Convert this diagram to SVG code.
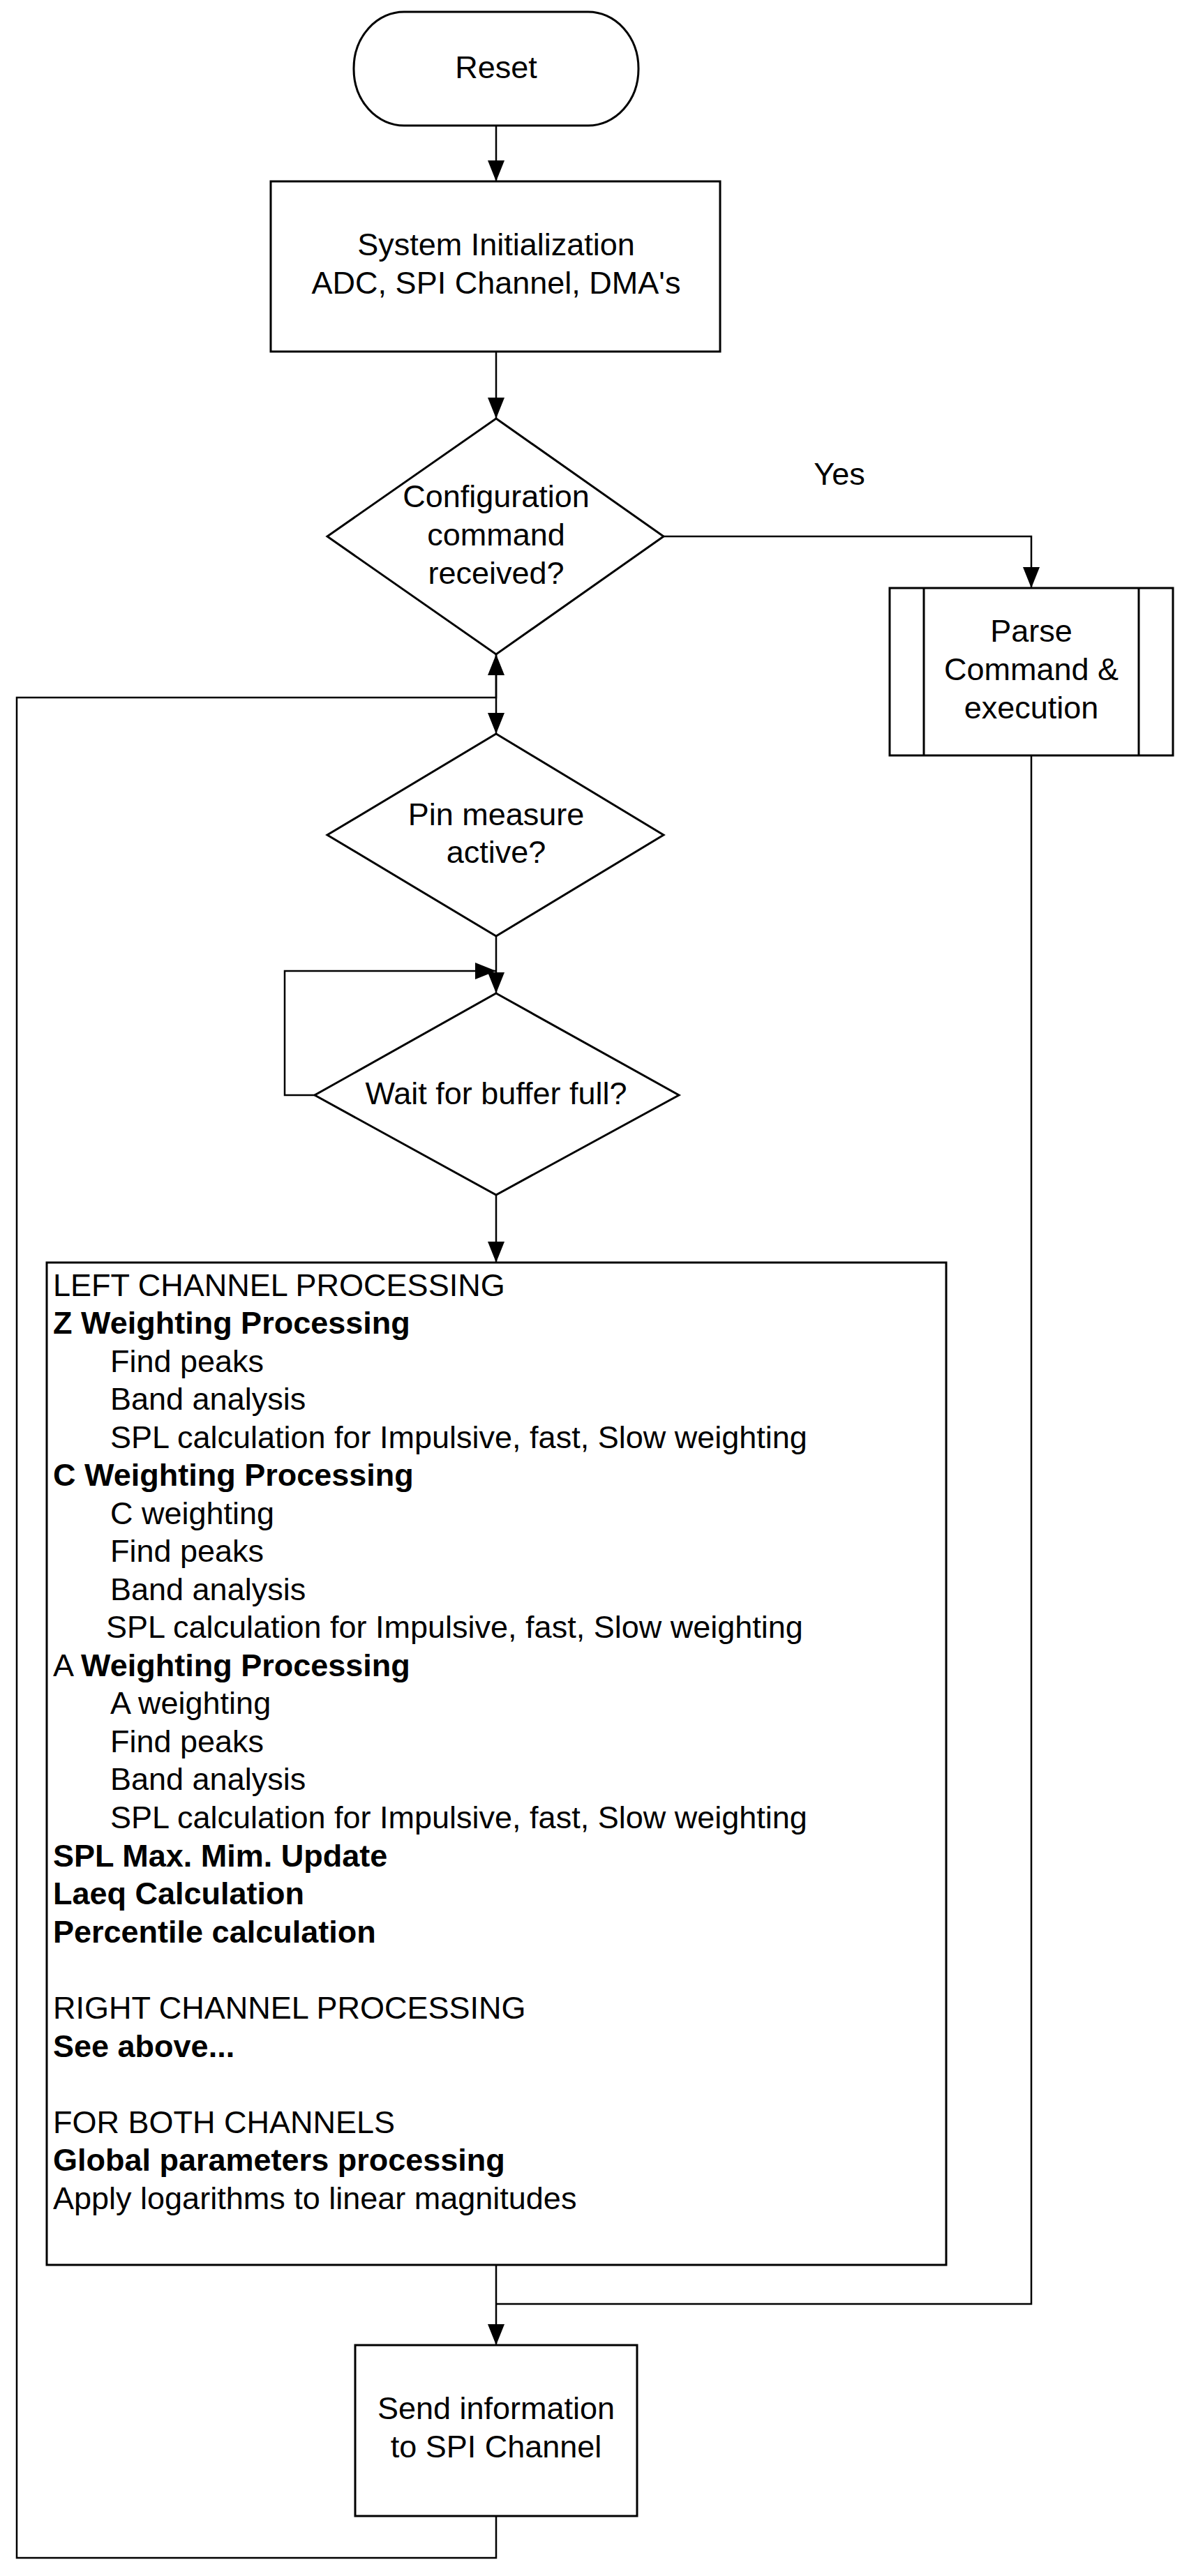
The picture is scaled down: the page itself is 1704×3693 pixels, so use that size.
<svg xmlns="http://www.w3.org/2000/svg" width="1704" height="3693" viewBox="0 0 1704 3693">
<style>
.shape{fill:#fff;stroke:#000;stroke-width:3}
.conn{fill:none;stroke:#000;stroke-width:2.5}
text{font-family:"Liberation Sans",Arial,sans-serif;font-size:45px;fill:#000}
.c{text-anchor:middle}
.b{font-weight:bold}
</style>
<defs>
<marker id="arr" viewBox="0 0 30 24" refX="30" refY="12" markerWidth="30" markerHeight="24" markerUnits="userSpaceOnUse" orient="auto">
<path d="M0,0 L30,12 L0,24 z" fill="#000"/>
</marker>
</defs>
<rect x="0" y="0" width="1704" height="3693" fill="#fff"/>
<g id="connectors">
<path class="conn" d="M711,180 V260" marker-end="url(#arr)"/>
<path class="conn" d="M711,504 V600" marker-end="url(#arr)"/>
<path class="conn" d="M951,769 H1478 V843" marker-end="url(#arr)"/>
<path class="conn" d="M711,938 V1052" marker-end="url(#arr)"/>
<path class="conn" d="M711,1342 V1424" marker-end="url(#arr)"/>
<path class="conn" d="M451,1570 H408 V1392 H711" marker-end="url(#arr)"/>
<path class="conn" d="M711,1713 V1810" marker-end="url(#arr)"/>
<path class="conn" d="M711,3247 V3362" marker-end="url(#arr)"/>
<path class="conn" d="M1478,1083 V3303 H711"/>
<path class="conn" d="M711,3607 V3667 H24 V1000 H711 V938" marker-end="url(#arr)"/>
<text x="1203" y="695" class="c">Yes</text>
</g>
<g id="reset">
<rect class="shape" x="507" y="17" width="408" height="163" rx="72" ry="81"/>
<text x="711" y="112" class="c">Reset</text>
</g>
<g id="init">
<rect class="shape" x="388" y="260" width="644" height="244"/>
<text x="711" y="366" class="c">System Initialization</text>
<text x="711" y="421" class="c">ADC, SPI Channel, DMA's</text>
</g>
<g id="config">
<polygon class="shape" points="711,600 951,769 711,938 469,769"/>
<text x="711" y="727" class="c">Configuration</text>
<text x="711" y="782" class="c">command</text>
<text x="711" y="837" class="c">received?</text>
</g>
<g id="parse">
<rect class="shape" x="1275" y="843" width="406" height="240"/>
<line class="shape" x1="1324" y1="843" x2="1324" y2="1083"/>
<line class="shape" x1="1632" y1="843" x2="1632" y2="1083"/>
<text x="1478" y="920" class="c">Parse</text>
<text x="1478" y="975" class="c">Command &amp;</text>
<text x="1478" y="1030" class="c">execution</text>
</g>
<g id="pin">
<polygon class="shape" points="711,1052 951,1197 711,1342 469,1197"/>
<text x="711" y="1183" class="c">Pin measure</text>
<text x="711" y="1237" class="c">active?</text>
</g>
<g id="wait">
<polygon class="shape" points="711,1424 973,1570 711,1713 451,1570"/>
<text x="711" y="1583" class="c">Wait for buffer full?</text>
</g>
<g id="processing">
<rect class="shape" x="67" y="1810" width="1289" height="1437"/>
<text x="76" y="1858">LEFT CHANNEL PROCESSING</text>
<text x="76" y="1912" class="b">Z Weighting Processing</text>
<text x="158" y="1967">Find peaks</text>
<text x="158" y="2021">Band analysis</text>
<text x="158" y="2076">SPL calculation for Impulsive, fast, Slow weighting</text>
<text x="76" y="2130" class="b">C Weighting Processing</text>
<text x="158" y="2185">C weighting</text>
<text x="158" y="2239">Find peaks</text>
<text x="158" y="2294">Band analysis</text>
<text x="152" y="2348">SPL calculation for Impulsive, fast, Slow weighting</text>
<text x="76" y="2403">A <tspan class="b">Weighting Processing</tspan></text>
<text x="158" y="2457">A weighting</text>
<text x="158" y="2512">Find peaks</text>
<text x="158" y="2566">Band analysis</text>
<text x="158" y="2621">SPL calculation for Impulsive, fast, Slow weighting</text>
<text x="76" y="2676" class="b">SPL Max. Mim. Update</text>
<text x="76" y="2730" class="b">Laeq Calculation</text>
<text x="76" y="2785" class="b">Percentile calculation</text>
<text x="76" y="2894">RIGHT CHANNEL PROCESSING</text>
<text x="76" y="2949" class="b">See above...</text>
<text x="76" y="3058">FOR BOTH CHANNELS</text>
<text x="76" y="3112" class="b">Global parameters processing</text>
<text x="76" y="3167">Apply logarithms to linear magnitudes</text>
</g>
<g id="send">
<rect class="shape" x="509" y="3362" width="404" height="245"/>
<text x="711" y="3468" class="c">Send information</text>
<text x="711" y="3523" class="c">to SPI Channel</text>
</g>
</svg>
